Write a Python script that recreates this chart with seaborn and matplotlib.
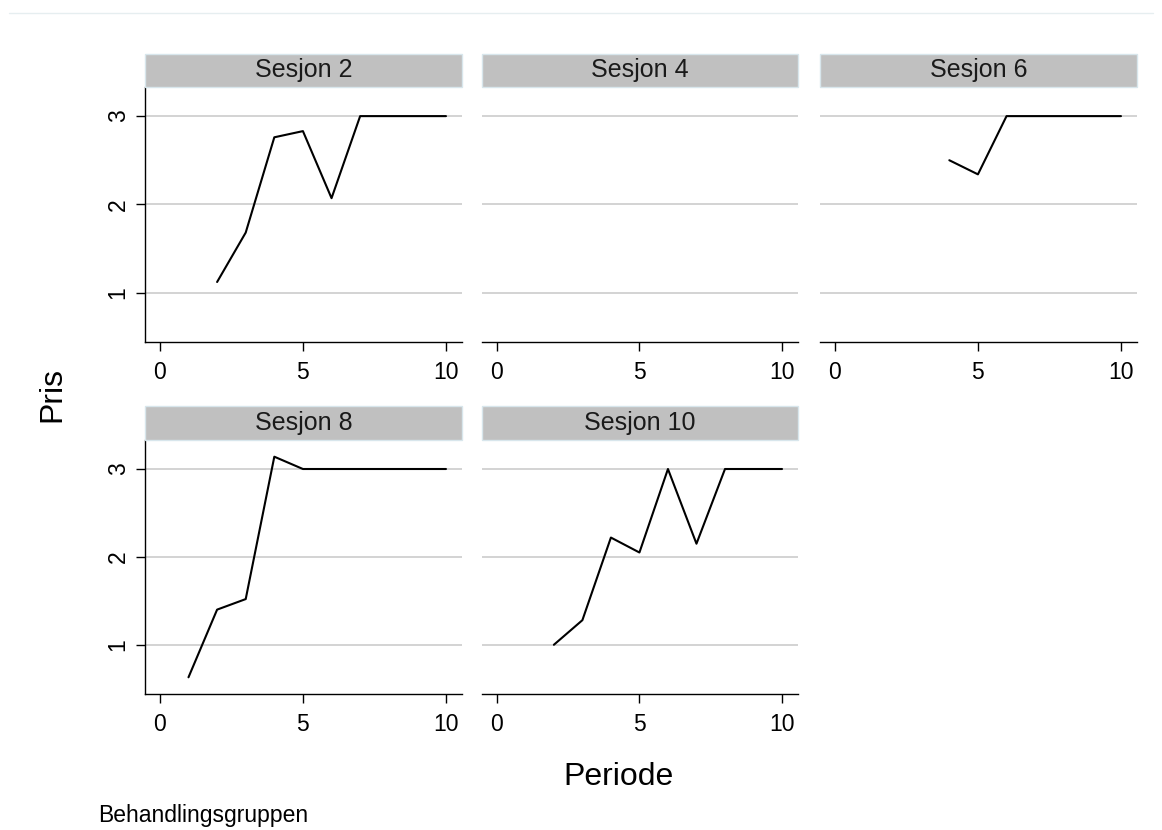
import numpy as np
import pandas as pd
import matplotlib
matplotlib.use("Agg")
import matplotlib.pyplot as plt
from matplotlib.patches import Rectangle
from matplotlib.lines import Line2D
import seaborn as sns

# ---- data ----
sessions = ["Sesjon 2", "Sesjon 4", "Sesjon 6", "Sesjon 8", "Sesjon 10"]

s2_periode = [2, 3, 4, 5, 6, 7, 8, 9, 10]
s2_pris = [1.12, 1.68, 2.76, 2.83, 2.07, 3.0, 3.0, 3.0, 3.0]

s4_periode = []
s4_pris = []

s6_periode = [4, 5, 6, 7, 8, 9, 10]
s6_pris = [2.50, 2.34, 3.0, 3.0, 3.0, 3.0, 3.0]

s8_periode = [1, 2, 3, 4, 5, 6, 7, 8, 9, 10]
s8_pris = [0.63, 1.40, 1.52, 3.14, 3.0, 3.0, 3.0, 3.0, 3.0, 3.0]

s10_periode = [2, 3, 4, 5, 6, 7, 8, 9, 10]
s10_pris = [1.00, 1.28, 2.22, 2.05, 3.0, 2.15, 3.0, 3.0, 3.0]

x_ticks = [0, 5, 10]
y_ticks = [1, 2, 3]

series = {
    "Sesjon 2": (s2_periode, s2_pris),
    "Sesjon 4": (s4_periode, s4_pris),
    "Sesjon 6": (s6_periode, s6_pris),
    "Sesjon 8": (s8_periode, s8_pris),
    "Sesjon 10": (s10_periode, s10_pris),
}
frames = []
for name, (px, py) in series.items():
    frames.append(pd.DataFrame({"Sesjon": [name] * len(px), "Periode": px, "Pris": py}))
df = pd.concat(frames, ignore_index=True)
df["Periode"] = df["Periode"].astype(float)
df["Pris"] = df["Pris"].astype(float)

# ---- style ----
sns.set_style("white")
plt.rcParams["font.family"] = ["Liberation Sans", "DejaVu Sans"]

g = sns.relplot(
    data=df, x="Periode", y="Pris", col="Sesjon", col_order=sessions,
    col_wrap=3, kind="line", color="black", linewidth=1.5,
    estimator=None, errorbar=None, height=3, aspect=1.2,
    facet_kws=dict(sharex=True, sharey=True),
)
fig = g.figure
fig.set_size_inches(11.62, 8.3)
fig.set_dpi(100)
fig.patch.set_facecolor("white")

g.set_titles("")
g.set_axis_labels("", "")

W, H = 1162.0, 830.0
col_x = [(145, 462), (482, 798), (820, 1137)]
row_y = [(87, 342), (440, 694)]
header_h = [33, 34]

for i, ax in enumerate(g.axes.flat):
    r, c = divmod(i, 3)
    x0, x1 = col_x[c]
    y0, y1 = row_y[r]
    ax.set_position([x0 / W, 1 - y1 / H, (x1 - x0) / W, (y1 - y0) / H])
    ax.set_xlim(-0.52, 10.56)
    ax.set_ylim(0.44, 3.33)
    ax.set_xticks(x_ticks)
    ax.set_yticks(y_ticks)
    ax.set_facecolor("white")
    for yv in y_ticks:
        ax.axhline(yv, color="#d0d0d0", lw=1.3, zorder=0)
    ax.spines["top"].set_visible(False)
    ax.spines["right"].set_visible(False)
    ax.spines["bottom"].set_color("black")
    ax.spines["bottom"].set_linewidth(1.0)
    ax.tick_params(axis="x", which="both", bottom=True, labelbottom=True,
                   direction="out", length=6.5, width=1.0, color="black",
                   pad=7, labelsize=16.5, labelcolor="black")
    if c == 0:
        ax.spines["left"].set_color("black")
        ax.spines["left"].set_linewidth(1.0)
        ax.tick_params(axis="y", which="both", left=True, labelleft=True,
                       direction="out", length=6.5, width=1.0, color="black",
                       pad=4.5, labelsize=16.5, labelcolor="black",
                       labelrotation=90)
        for lab in ax.get_yticklabels():
            lab.set_va("center")
    else:
        ax.spines["left"].set_visible(False)
        ax.tick_params(axis="y", which="both", left=False, labelleft=False)
    # header strip
    hh = header_h[r] / (y1 - y0)
    ax.add_patch(Rectangle((0, 1), 1, hh, transform=ax.transAxes,
                           facecolor="#c0c0c0", edgecolor="#d8e6ec",
                           lw=1.0, clip_on=False, zorder=3))
    ax.text(0.5, 1 + hh / 2, sessions[i], transform=ax.transAxes,
            ha="center", va="center", fontsize=18, color="#1a1a1a",
            zorder=4, clip_on=False)

fig.text(618.5 / W, 1 - 785 / H, "Periode", ha="center", va="baseline",
         fontsize=23, color="black")
fig.text(52 / W, 1 - 394.5 / H, "Pris", ha="center", va="center",
         rotation=90, fontsize=23, color="black")
fig.text(98 / W, 1 - 822 / H, "Behandlingsgruppen", ha="left",
         va="baseline", fontsize=16.5, color="black")
fig.add_artist(Line2D([9 / W, 1153 / W], [1 - 13.3 / H, 1 - 13.3 / H],
                      transform=fig.transFigure, color="#e6eef0", lw=1.0))

fig.savefig("out.png", dpi=100)
